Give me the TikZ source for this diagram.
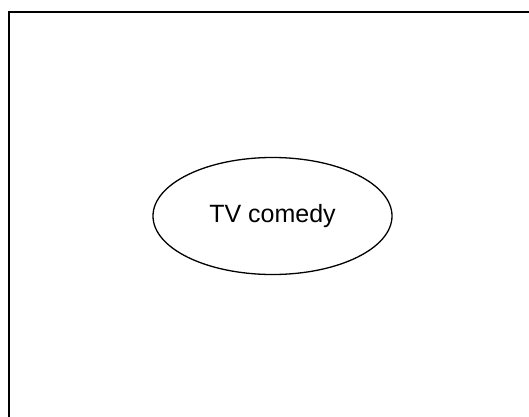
\documentclass[tikz,border=0pt]{standalone}
\usepackage{fontspec}
\setmainfont{Liberation Sans}
\usetikzlibrary{shapes.geometric}
\begin{document}
\begin{tikzpicture}[x=1pt,y=1pt,
  frame/.style={line width=2pt, line cap=rect},
  topic/.style={draw, ellipse, line width=1.3pt, minimum width=239pt, minimum height=117pt, inner sep=0pt, font=\fontsize{25}{30}\selectfont}]
\useasboundingbox (0,0) rectangle (529,416);
\coordinate (bl) at (9,-5);
\coordinate (tl) at (9,404);
\coordinate (tr) at (535,404);
\draw[frame] (bl) -- (tl) -- (tr);
\node[topic] (tv) at (272.5,200) {TV comedy};
\end{tikzpicture}
\end{document}
